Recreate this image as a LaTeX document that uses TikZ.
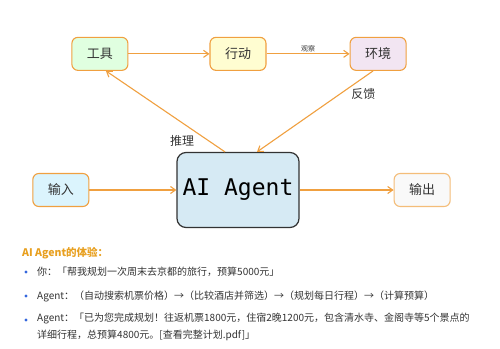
\documentclass[tikz,border=0pt]{standalone}
\usepackage{fontspec}
\setmainfont{Noto Sans CJK SC}
\newfontfamily\agentmono{DejaVu Sans Mono}
\usepackage{xcolor}
\usetikzlibrary{arrows.meta,positioning}
\definecolor{arrowor}{HTML}{F0A040}
\definecolor{txtgray}{HTML}{333333}
\definecolor{bulletblue}{HTML}{3366DD}
\definecolor{titleor}{HTML}{E8A020}
\definecolor{agentfill}{HTML}{D6EAF4}

\begin{document}
\begin{tikzpicture}[
  x=1pt,y=-1pt,
  node distance=81pt and 81pt,
  stage/.style={draw=arrowor,line width=1.1pt,rounded corners=6pt,align=center,
                minimum width=56pt,minimum height=33pt,font=\fontsize{13}{15}\selectfont,
                text=txtgray},
  core/.style={draw=txtgray,line width=1.2pt,rounded corners=9pt,fill=agentfill,
               minimum width=122pt,minimum height=75pt,
               font=\agentmono\fontsize{23}{26}\selectfont,text=black},
  flow/.style={-{Straight Barb[length=5pt,width=7pt]},draw=arrowor,line width=1.1pt},
  lbl/.style={text=txtgray,inner sep=1pt},
  line/.style={anchor=west,text=txtgray,font=\fontsize{10}{17}\selectfont,
               align=left,inner sep=0pt},
  dot/.style={circle,fill=bulletblue,inner sep=0pt,minimum size=3.4pt}
]
\useasboundingbox[fill=white] (0,0) rectangle (500,348);
% loop of the agent
\node[core] (agent) at (238,190) {AI Agent};
\node[stage,fill=yellow!18,above=of agent] (action) {行动};
\node[stage,fill=green!12,left=of action] (tool) {工具};
\node[stage,fill=violet!10,right=83pt of action] (env) {环境};
\node[stage,fill=cyan!14,left=87pt of agent] (input) {输入};
\node[stage,fill=gray!5,draw=arrowor!70,right=94pt of agent] (output) {输出};
\draw[flow] (tool) -- (action);
\draw[flow] (action) -- node[lbl,above,font=\fontsize{7}{8}\selectfont] (observe) {观察} (env);
\draw[flow] ([xshift=-5pt]env.south) -- node[lbl,pos=0.2,anchor=north west,
  font=\fontsize{12}{14}\selectfont] (feedback) {反馈} ([xshift=19pt]agent.north);
\draw[flow] ([xshift=-13pt]agent.north) -- ([xshift=6pt]tool.south);
\node[lbl,font=\fontsize{12}{14}\selectfont] (reason) at (182,141) {推理};
\draw[flow] (input) -- (agent);
\draw[flow] (agent) -- (output);
% experience text
\node[anchor=west,inner sep=0pt,text=titleor,font=\bfseries\fontsize{10.5}{12}\selectfont]
  (title) at (22,253) {AI Agent的体验：};
\foreach \y in {272,296,320} \node[dot] at (26,\y) {};
\node[line] (you) at (37,272) {你：「帮我规划一次周末去京都的旅行，预算5000元」};
\node[line] (steps) at (37,296) {Agent：（自动搜索机票价格）→（比较酒店并筛选）→（规划每日行程）→（计算预算）};
\node[line,anchor=north west] (reply) at (37,313) {Agent：「已为您完成规划！往返机票1800元，住宿2晚1200元，包含清水寺、金阁寺等5个景点的\\详细行程，总预算4800元。[查看完整计划.pdf]」};
\end{tikzpicture}
\end{document}
